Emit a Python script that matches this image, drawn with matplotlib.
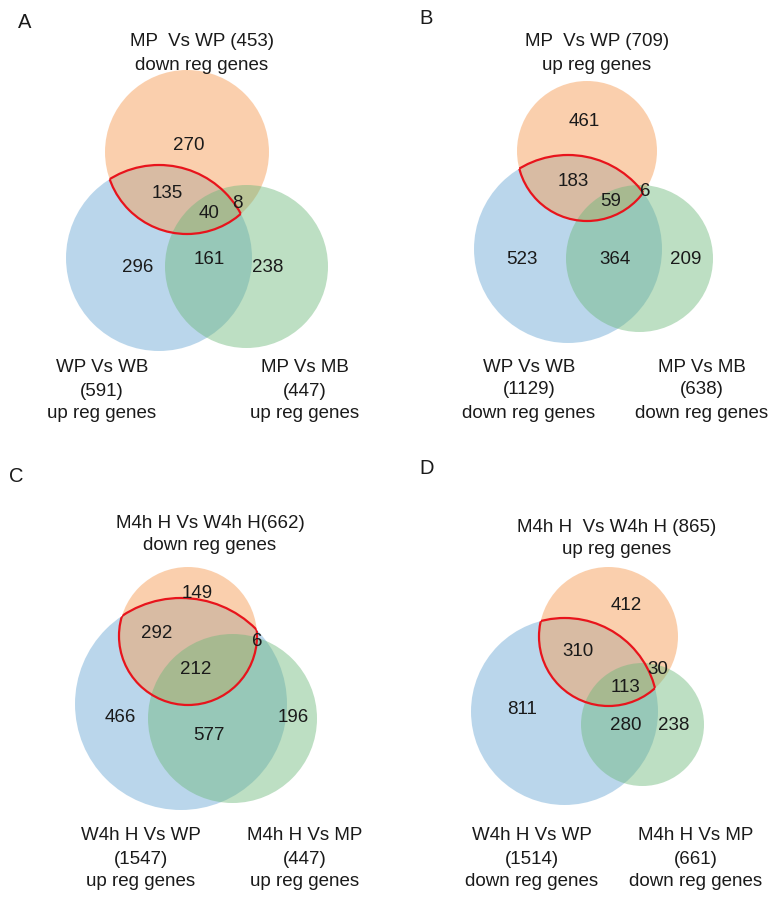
import matplotlib.pyplot as plt
from matplotlib.patches import Circle

plt.rcParams['font.family'] = ['Liberation Sans', 'DejaVu Sans']

# ---- data: set names / totals / region counts ----
panel_letters = ['A', 'B', 'C', 'D']

top_names = ['MP  Vs WP', 'MP  Vs WP', 'M4h H Vs W4h H', 'M4h H  Vs W4h H']
top_totals = [453, 709, 662, 865]
top_dirs = ['down reg genes', 'up reg genes', 'down reg genes', 'up reg genes']

left_names = ['WP Vs WB', 'WP Vs WB', 'W4h H Vs WP', 'W4h H Vs WP']
left_totals = [591, 1129, 1547, 1514]
left_dirs = ['up reg genes', 'down reg genes', 'up reg genes', 'down reg genes']

right_names = ['MP Vs MB', 'MP Vs MB', 'M4h H Vs MP', 'M4h H Vs MP']
right_totals = [447, 638, 447, 661]
right_dirs = ['up reg genes', 'down reg genes', 'up reg genes', 'down reg genes']

# region counts: top only, top&left, top&left&right, top&right, left only, left&right, right only
region_counts = [
    [270, 135, 40, 8, 296, 161, 238],
    [461, 183, 59, 6, 523, 364, 209],
    [149, 292, 212, 6, 466, 577, 196],
    [412, 310, 113, 30, 811, 280, 238],
]

# ---- layout (pixel space) ----
# circles: (cx, cy, r) for top(orange), left(blue), right(green)
top_circ = [(187, 152, 82), (587, 151, 70), (188, 636, 69), (608.5, 636.5, 69.5)]
left_circ = [(159, 258, 93), (568, 249, 94), (181, 704, 106), (564.5, 711.5, 93.5)]
right_circ = [(246.5, 266.5, 81.5), (639.5, 258.5, 73.5), (232.5, 718.5, 84.5), (642.5, 724.5, 61.5)]

region_xy = [
    [(189, 145), (167, 193), (209, 213), (237, 203), (138, 268), (209, 260), (268, 268)],
    [(584, 122), (573, 181), (611, 202), (645, 191), (522, 259), (615, 259), (686, 259)],
    [(197, 594), (157, 634), (196, 670), (257, 642), (120, 717), (209, 735), (293, 717)],
    [(626, 605), (578, 652), (626, 687), (658, 670), (522, 709), (626, 726), (674, 726)],
]
letter_xy = [(25, 22), (426, 19), (16, 476), (427, 469)]
title_xy = [(202, 42), (597, 42), (210, 523), (617, 527)]
left_lab_xy = [(102, 368), (529, 367), (141, 836), (532, 836)]
right_lab_xy = [(305, 368), (702, 367), (305, 836), (696, 836)]
line_gap = 23

c_orange = '#F7A15C'
c_blue = '#77AFD8'
c_green = '#6DB87A'
c_red = '#E8141C'
fs = 13.5
tc = '#1a1a1a'

fig = plt.figure(figsize=(7.71, 8.97), dpi=100)
ax = fig.add_axes([0, 0, 1, 1])
ax.set_xlim(0, 771)
ax.set_ylim(897, 0)
ax.set_aspect('equal')
ax.axis('off')

for i in range(4):
    blue = Circle(left_circ[i][:2], left_circ[i][2], facecolor=c_blue, alpha=0.5, lw=0)
    orange = Circle(top_circ[i][:2], top_circ[i][2], facecolor=c_orange, alpha=0.5, lw=0)
    green = Circle(right_circ[i][:2], right_circ[i][2], facecolor=c_green, alpha=0.45, lw=0)
    ax.add_patch(blue)
    ax.add_patch(orange)
    ax.add_patch(green)

    # red outline around the top∩left lens
    clip_b = Circle(left_circ[i][:2], left_circ[i][2], transform=ax.transData)
    clip_o = Circle(top_circ[i][:2], top_circ[i][2], transform=ax.transData)
    arc1 = Circle(top_circ[i][:2], top_circ[i][2], fill=False, edgecolor=c_red, lw=1.6, zorder=5)
    arc2 = Circle(left_circ[i][:2], left_circ[i][2], fill=False, edgecolor=c_red, lw=1.6, zorder=5)
    ax.add_patch(arc1)
    ax.add_patch(arc2)
    arc1.set_clip_path(clip_b)
    arc2.set_clip_path(clip_o)

    for n, (x, y) in zip(region_counts[i], region_xy[i]):
        ax.text(x, y, str(n), ha='center', va='center', fontsize=fs, color=tc, zorder=6)

    ax.text(*letter_xy[i], panel_letters[i], ha='center', va='center', fontsize=14.5, color=tc)

    tx, ty = title_xy[i]
    sep = '' if i == 2 else ' '
    ax.text(tx, ty, f'{top_names[i]}{sep}({top_totals[i]})', ha='center', va='center',
            fontsize=fs, color=tc)
    ax.text(tx, ty + line_gap, top_dirs[i], ha='center', va='center', fontsize=fs, color=tc)

    for (lx, ly), name, tot, d in [(left_lab_xy[i], left_names[i], left_totals[i], left_dirs[i]),
                                   (right_lab_xy[i], right_names[i], right_totals[i], right_dirs[i])]:
        ax.text(lx, ly, name, ha='center', va='center', fontsize=fs, color=tc)
        ax.text(lx, ly + line_gap, f'({tot})', ha='center', va='center', fontsize=fs, color=tc)
        ax.text(lx, ly + 2 * line_gap, d, ha='center', va='center', fontsize=fs, color=tc)

fig.savefig('out.png', dpi=100)
